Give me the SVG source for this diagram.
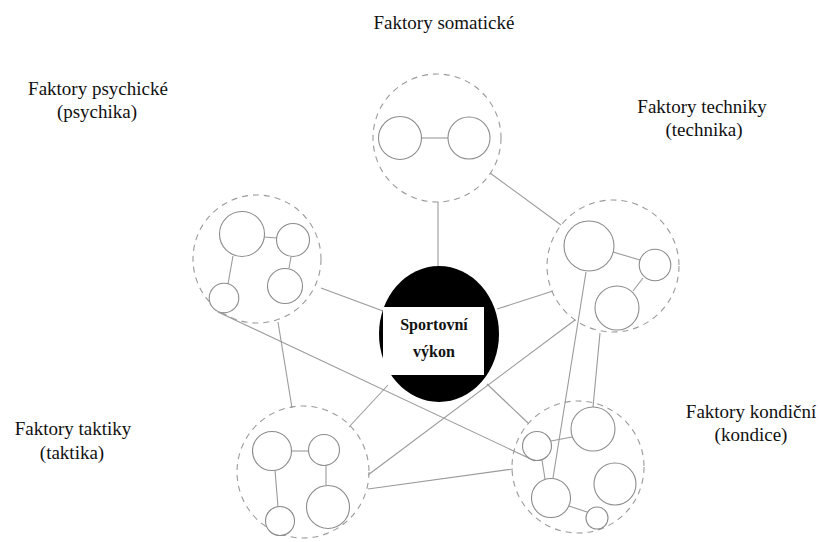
<svg xmlns="http://www.w3.org/2000/svg" width="820" height="542" viewBox="0 0 820 542">
<style>
.bg{fill:#fff}
.outer{fill:none;stroke:#9a9a9a;stroke-width:1.1;stroke-dasharray:6 5}
.inner{fill:#fff;stroke:#8c8c8c;stroke-width:1.1}
.link{stroke:#9a9a9a;stroke-width:1.1;fill:none}
.lbl{font-family:"Liberation Serif","Times New Roman",serif;font-size:19px;fill:#111;text-anchor:middle}
.core{font-family:"Liberation Serif","Times New Roman",serif;font-size:16px;font-weight:bold;fill:#111;text-anchor:middle}
</style>
<rect class="bg" x="0" y="0" width="820" height="542"/>
<g id="connectors">
<line class="link" x1="438" y1="202" x2="438" y2="266"/>
<line class="link" x1="490" y1="173" x2="561" y2="225"/>
<line class="link" x1="321" y1="288" x2="383" y2="311"/>
<line class="link" x1="497" y1="309" x2="553" y2="291"/>
<line class="link" x1="278" y1="322" x2="292" y2="408"/>
<line class="link" x1="218" y1="312" x2="535" y2="461"/>
<line class="link" x1="388" y1="385" x2="349" y2="427"/>
<line class="link" x1="487" y1="384" x2="528" y2="423"/>
<line class="link" x1="368" y1="475" x2="575" y2="320"/>
<line class="link" x1="368" y1="489" x2="513" y2="469"/>
<line class="link" x1="586" y1="272" x2="553" y2="478"/>
<line class="link" x1="600" y1="333" x2="593" y2="407"/>
</g>
<g id="somaticke">
<circle class="outer" cx="437" cy="138" r="64"/>
<line class="link" x1="422" y1="138" x2="448" y2="138"/>
<circle class="inner" cx="400" cy="138" r="21.5"/>
<circle class="inner" cx="469" cy="138" r="21"/>
<text class="lbl" x="444" y="29">Faktory somatické</text>
</g>
<g id="psychicke">
<circle class="outer" cx="257" cy="259" r="64"/>
<line class="link" x1="264" y1="237" x2="277" y2="238"/>
<line class="link" x1="291" y1="257" x2="289" y2="268"/>
<line class="link" x1="233" y1="256" x2="228" y2="284"/>
<circle class="inner" cx="242" cy="234" r="22.5"/>
<circle class="inner" cx="293" cy="240" r="16.5"/>
<circle class="inner" cx="285" cy="286" r="17.5"/>
<circle class="inner" cx="224" cy="298" r="14.8"/>
<text class="lbl" x="98" y="95">Faktory psychické</text>
<text class="lbl" x="97" y="118">(psychika)</text>
</g>
<g id="techniky">
<circle class="outer" cx="613" cy="266" r="66"/>
<line class="link" x1="613" y1="252" x2="640" y2="260"/>
<line class="link" x1="643" y1="278" x2="633" y2="291"/>
<circle class="inner" cx="589" cy="246" r="25"/>
<circle class="inner" cx="655" cy="265" r="15.8"/>
<circle class="inner" cx="617" cy="308" r="22"/>
<text class="lbl" x="702" y="113">Faktory techniky</text>
<text class="lbl" x="704" y="136">(technika)</text>
</g>
<g id="kondicni">
<circle class="outer" cx="578" cy="467" r="66"/>
<line class="link" x1="551" y1="441" x2="572" y2="437"/>
<line class="link" x1="542" y1="460" x2="545" y2="479"/>
<line class="link" x1="569" y1="506" x2="587" y2="512"/>
<circle class="inner" cx="537" cy="446" r="14.5"/>
<circle class="inner" cx="593" cy="429" r="22"/>
<circle class="inner" cx="615" cy="484" r="21"/>
<circle class="inner" cx="551" cy="498" r="19.5"/>
<circle class="inner" cx="597" cy="518" r="11"/>
<text class="lbl" x="751" y="418">Faktory kondiční</text>
<text class="lbl" x="751" y="441">(kondice)</text>
</g>
<g id="taktiky">
<circle class="outer" cx="303" cy="472" r="66"/>
<line class="link" x1="292" y1="451" x2="309" y2="451"/>
<line class="link" x1="326" y1="466" x2="326" y2="485"/>
<line class="link" x1="275" y1="470" x2="278" y2="507"/>
<circle class="inner" cx="272" cy="451" r="19.5"/>
<circle class="inner" cx="324" cy="450" r="15.5"/>
<circle class="inner" cx="328" cy="507" r="21.5"/>
<circle class="inner" cx="280" cy="521" r="14.5"/>
<text class="lbl" x="73" y="435">Faktory taktiky</text>
<text class="lbl" x="72" y="459">(taktika)</text>
</g>
<g id="sportovni-vykon">
<ellipse cx="439" cy="334" rx="60" ry="68" fill="#000"/>
<rect x="383" y="307" width="101" height="68" fill="#fff"/>
<text class="core" x="434" y="330">Sportovní</text>
<text class="core" x="434" y="357">výkon</text>
</g>
</svg>
